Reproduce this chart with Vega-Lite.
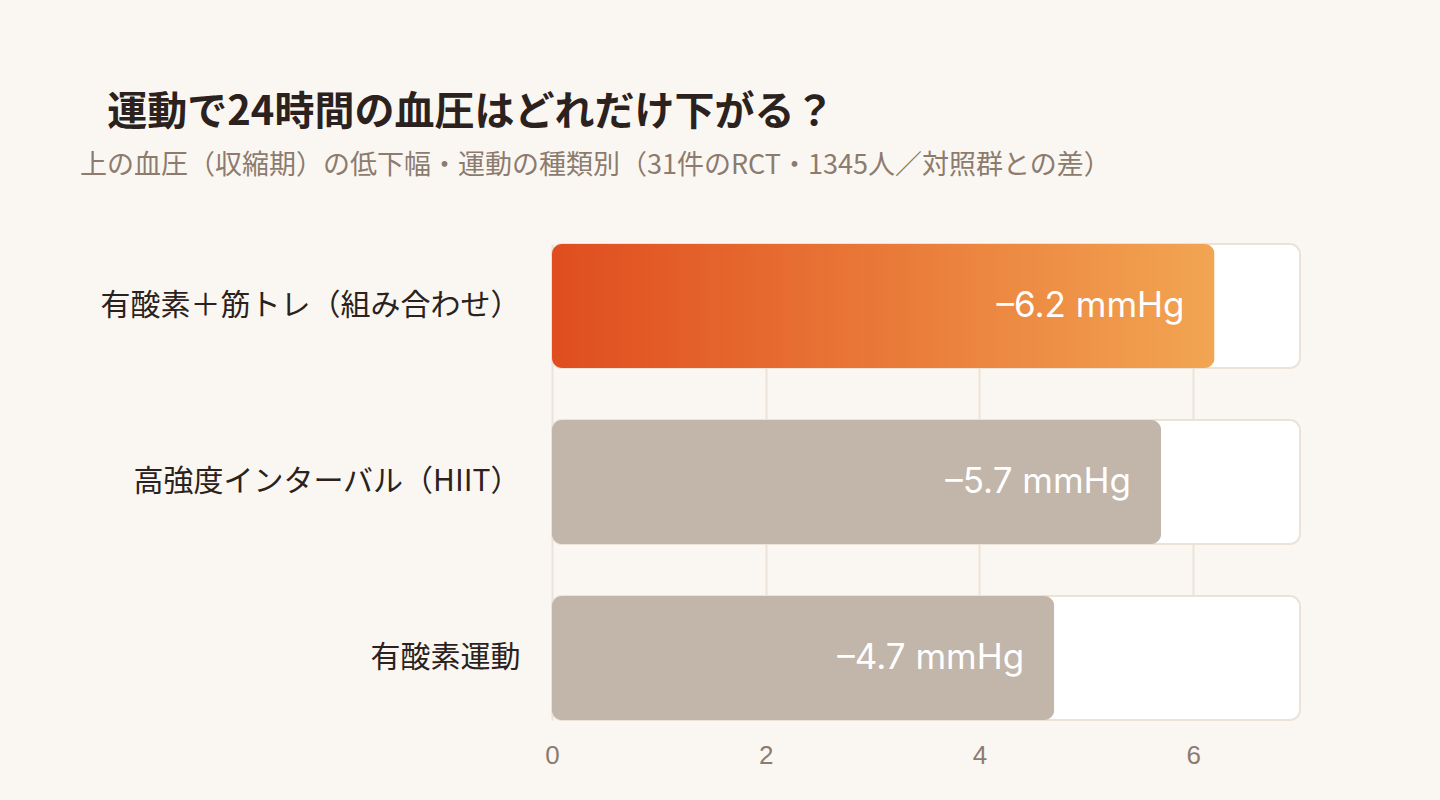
{
  "$schema": "https://vega.github.io/schema/vega-lite/v6.json",
  "autosize": "none",
  "width": 748,
  "height": 476,
  "padding": {"left": 552, "top": 244, "right": 140, "bottom": 80},
  "background": "#faf7f2",
  "title": {
    "text": "\u200b\u00a0\u00a0\u00a0運動で24時間の血圧はどれだけ下がる？",
    "subtitle": "上の血圧（収縮期）の低下幅・運動の種類別（31件のRCT・1345人／対照群との差）",
    "anchor": "start",
    "frame": "group",
    "dx": -472,
    "offset": 64,
    "font": "Noto Sans CJK JP",
    "fontSize": 40,
    "fontWeight": "bold",
    "color": "#2b2220",
    "subtitleFont": "Noto Sans CJK JP",
    "subtitleFontSize": 27,
    "subtitleColor": "#8c7b6e",
    "subtitlePadding": 20
  },
  "data": {
    "values": [
      {"type": "有酸素＋筋トレ（組み合わせ）", "reduction": 6.2, "label": "–6.2 mmHg", "highlight": true},
      {"type": "高強度インターバル（HIIT）", "reduction": 5.7, "label": "–5.7 mmHg", "highlight": false},
      {"type": "有酸素運動", "reduction": 4.7, "label": "–4.7 mmHg", "highlight": false}
    ]
  },
  "encoding": {
    "y": {
      "field": "type",
      "type": "nominal",
      "sort": null,
      "scale": {"paddingInner": 0.2955, "paddingOuter": 0},
      "axis": {
        "title": null,
        "domain": false,
        "ticks": false,
        "grid": false,
        "labelFont": "Noto Sans CJK JP",
        "labelFontSize": 30,
        "labelColor": "#2b2220",
        "labelPadding": 32,
        "labelLimit": 600
      }
    }
  },
  "layer": [
    {
      "mark": {"type": "bar", "fill": "#ffffff", "stroke": "#ebe2d8", "strokeWidth": 2, "cornerRadius": 10},
      "encoding": {
        "x": {
          "datum": 7,
          "type": "quantitative",
          "scale": {"domain": [0, 7], "nice": false},
          "axis": {
            "title": null,
            "values": [0, 2, 4, 6],
            "format": "d",
            "domain": false,
            "ticks": false,
            "grid": true,
            "gridColor": "#ebe3d9",
            "gridWidth": 2,
            "labelFlush": false,
            "labelFont": "Liberation Sans",
            "labelFontSize": 26,
            "labelColor": "#8c7b6e",
            "labelPadding": 22,
            "zindex": 0
          }
        }
      }
    },
    {
      "transform": [{"filter": "!datum.highlight"}],
      "mark": {"type": "bar", "fill": "#c2b5aa", "cornerRadius": 10},
      "encoding": {
        "x": {"field": "reduction", "type": "quantitative"}
      }
    },
    {
      "transform": [{"filter": "datum.highlight"}],
      "mark": {
        "type": "bar",
        "cornerRadius": 10,
        "fill": {
          "gradient": "linear",
          "x1": 0, "y1": 0, "x2": 1, "y2": 0,
          "stops": [
            {"offset": 0, "color": "#e04d1f"},
            {"offset": 1, "color": "#f2a552"}
          ]
        }
      },
      "encoding": {
        "x": {"field": "reduction", "type": "quantitative"}
      }
    },
    {
      "mark": {"type": "text", "align": "right", "baseline": "middle", "dx": -30, "color": "#ffffff", "font": "Inter", "fontSize": 35},
      "encoding": {
        "x": {"field": "reduction", "type": "quantitative"},
        "text": {"field": "label"}
      }
    }
  ],
  "config": {
    "view": {"stroke": null}
  }
}
